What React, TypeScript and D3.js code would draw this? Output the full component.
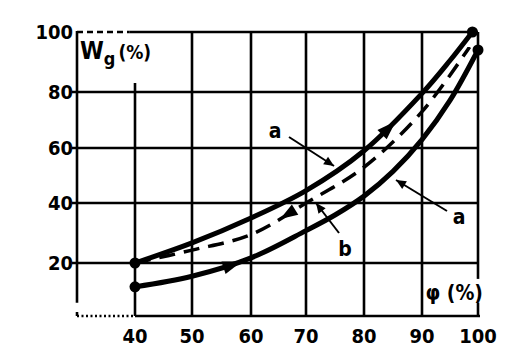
import React, { useEffect, useRef } from 'react';
import * as d3 from 'd3';

// relative humidity (%) and water content Wg (%)
const humidity = [40, 50, 60, 70, 80, 90, 95, 99];
const upperCurve = [20, 26.7, 35, 44.5, 59, 79.5, 90.5, 100];
const lowerHumidity = [40, 50, 60, 70, 75, 80, 85, 90, 95, 100];
const lowerCurve = [11, 15, 21.7, 30.8, 36, 42.5, 51.5, 63, 77, 94];
const dashedHumidity = [40, 50, 60, 70, 80, 90, 98.5];
const dashedCurve = [20, 24.3, 29.5, 40, 53, 73, 95];

const xTicks = [40, 50, 60, 70, 80, 90, 100];
const yTicks = [20, 40, 60, 80, 100];

// arrow positions (humidity) along each curve
const upperArrowAt = 84;
const lowerArrowAt = 56.5;
const dashedArrowAt = 67;

const FONT = '"DejaVu Sans Condensed", "DejaVu Sans", Arial, sans-serif';

const App = () => {
  const svgRef = useRef<SVGSVGElement>(null);

  useEffect(() => {
    const svg = d3.select(svgRef.current);
    svg.selectAll('*').remove();

    // the scan is slightly uneven, so the grid positions are mapped piecewise
    const x = d3.scaleLinear()
      .domain([30, 40, 50, 60, 70, 80, 90, 100])
      .range([77, 135, 192, 251, 306, 364, 422, 478]);
    const y = d3.scaleLinear()
      .domain([0, 20, 40, 60, 80, 100])
      .range([316, 263, 203, 148, 92, 32]);

    const ink = '#000';

    // grid
    const grid = svg.append('g').attr('stroke', ink).attr('stroke-width', 2.6);
    yTicks.filter(t => t < 100).forEach(t => {
      grid.append('line').attr('x1', x(30) - 5).attr('x2', x(100)).attr('y1', y(t)).attr('y2', y(t));
    });
    xTicks.filter(t => t > 40 && t < 100).forEach(t => {
      grid.append('line').attr('x1', x(t)).attr('x2', x(t)).attr('y1', y(100)).attr('y2', y(0));
    });
    // 40 line starts below the axis title
    grid.append('line').attr('x1', x(40)).attr('x2', x(40)).attr('y1', y(83)).attr('y2', y(0));
    // top border: dashed at the left, solid after
    grid.append('line').attr('x1', x(30)).attr('x2', x(39)).attr('y1', y(100)).attr('y2', y(100))
      .attr('stroke-dasharray', '6 4');
    grid.append('line').attr('x1', x(39)).attr('x2', x(100)).attr('y1', y(100)).attr('y2', y(100));
    // bottom border: dotted at the left, solid after
    grid.append('line').attr('x1', x(30)).attr('x2', x(40)).attr('y1', y(0)).attr('y2', y(0))
      .attr('stroke-dasharray', '2 2.5');
    grid.append('line').attr('x1', x(40)).attr('x2', x(100) + 2).attr('y1', y(0)).attr('y2', y(0));
    // left axis
    grid.append('line').attr('x1', x(30)).attr('x2', x(30)).attr('y1', y(100) - 1).attr('y2', y(5));
    grid.append('line').attr('x1', x(30)).attr('x2', x(30)).attr('y1', y(1.5)).attr('y2', y(0));
    // right border, broken by the axis title
    grid.append('line').attr('x1', x(100)).attr('x2', x(100)).attr('y1', y(100)).attr('y2', y(14));
    grid.append('line').attr('x1', x(100)).attr('x2', x(100)).attr('y1', y(5)).attr('y2', y(0));

    // tick labels
    const labels = svg.append('g')
      .style('font-family', FONT).style('font-weight', 'bold')
      .style('font-size', '20px').attr('fill', ink);
    xTicks.forEach(t => {
      labels.append('text').attr('x', x(t)).attr('y', y(0) + 27).attr('text-anchor', 'middle').text(String(t));
    });
    yTicks.forEach(t => {
      labels.append('text').attr('x', x(30) - 4).attr('y', y(t) + 7).attr('text-anchor', 'end').text(String(t));
    });

    // axis titles
    const yTitle = svg.append('text').attr('x', x(30) + 3).attr('y', y(100) + 27)
      .style('font-family', FONT).style('font-weight', 'bold')
      .style('font-size', '24px').attr('fill', ink);
    yTitle.append('tspan').text('W');
    yTitle.append('tspan').attr('dy', 6).style('font-size', '18px').text('g');
    yTitle.append('tspan').attr('dy', -6).attr('dx', 3).style('font-size', '19px').text('(%)');

    svg.append('text').attr('x', x(100) + 5).attr('y', y(0) - 16).attr('text-anchor', 'end')
      .style('font-family', FONT).style('font-weight', 'bold')
      .style('font-size', '21px').attr('fill', ink)
      .text('φ (%)');

    // curves
    const line = d3.line<[number, number]>().x(d => x(d[0])).y(d => y(d[1])).curve(d3.curveCatmullRom.alpha(0.5));
    const upperPts = humidity.map((h, i) => [h, upperCurve[i]] as [number, number]);
    const lowerPts = lowerHumidity.map((h, i) => [h, lowerCurve[i]] as [number, number]);
    const dashedPts = dashedHumidity.map((h, i) => [h, dashedCurve[i]] as [number, number]);

    const upperPath = svg.append('path').attr('d', line(upperPts)).attr('fill', 'none')
      .attr('stroke', ink).attr('stroke-width', 5);
    const lowerPath = svg.append('path').attr('d', line(lowerPts)).attr('fill', 'none')
      .attr('stroke', ink).attr('stroke-width', 5);
    const dashedPath = svg.append('path').attr('d', line(dashedPts)).attr('fill', 'none')
      .attr('stroke', ink).attr('stroke-width', 3.5).attr('stroke-dasharray', '16 9');

    // end dots
    [upperPts[0], lowerPts[0], upperPts[upperPts.length - 1], lowerPts[lowerPts.length - 1]].forEach(p => {
      svg.append('circle').attr('cx', x(p[0])).attr('cy', y(p[1])).attr('r', 5.5).attr('fill', ink);
    });

    // arrowheads on curves: find the point along the path at a given x
    const arrowOnPath = (node: SVGPathElement, hx: number, forward: boolean, size: number) => {
      const total = node.getTotalLength();
      const target = x(hx);
      let lo = 0, hi = total;
      for (let k = 0; k < 40; k++) {
        const mid = (lo + hi) / 2;
        if (node.getPointAtLength(mid).x < target) lo = mid; else hi = mid;
      }
      const p = node.getPointAtLength(lo);
      const q = node.getPointAtLength(Math.min(total, lo + 2));
      let ang = Math.atan2(q.y - p.y, q.x - p.x);
      if (!forward) ang += Math.PI;
      const tip = [p.x + Math.cos(ang) * size, p.y + Math.sin(ang) * size];
      const bx = p.x - Math.cos(ang) * size * 0.6;
      const by = p.y - Math.sin(ang) * size * 0.6;
      const w = size * 0.55;
      const pts = [
        tip,
        [bx + Math.cos(ang + Math.PI / 2) * w, by + Math.sin(ang + Math.PI / 2) * w],
        [bx - Math.cos(ang + Math.PI / 2) * w, by - Math.sin(ang + Math.PI / 2) * w],
      ];
      svg.append('polygon').attr('points', pts.map(d => d.join(',')).join(' ')).attr('fill', ink);
    };
    arrowOnPath(upperPath.node() as SVGPathElement, upperArrowAt, true, 12);
    arrowOnPath(lowerPath.node() as SVGPathElement, lowerArrowAt, true, 12);
    arrowOnPath(dashedPath.node() as SVGPathElement, dashedArrowAt, false, 11);

    // pointer labels a / a / b
    const pointer = (lx: number, ly: number, x1: number, y1: number, x2: number, y2: number, t: string) => {
      svg.append('text').attr('x', lx).attr('y', ly).attr('text-anchor', 'middle')
        .style('font-family', FONT).style('font-weight', 'bold').style('font-size', '21px').attr('fill', ink).text(t);
      svg.append('line').attr('x1', x1).attr('y1', y1).attr('x2', x2).attr('y2', y2)
        .attr('stroke', ink).attr('stroke-width', 2);
      const ang = Math.atan2(y2 - y1, x2 - x1);
      const s = 10, w = 4.5;
      const bx = x2 - Math.cos(ang) * s, by = y2 - Math.sin(ang) * s;
      const pts = [
        [x2, y2],
        [bx + Math.cos(ang + Math.PI / 2) * w, by + Math.sin(ang + Math.PI / 2) * w],
        [bx - Math.cos(ang + Math.PI / 2) * w, by - Math.sin(ang + Math.PI / 2) * w],
      ];
      svg.append('polygon').attr('points', pts.map(d => d.join(',')).join(' ')).attr('fill', ink);
    };
    pointer(275, 138, 289, 137, 334, 166, 'a');
    pointer(459, 224, 447, 211, 396, 180, 'a');
    pointer(345, 256, 339, 233, 316, 203, 'b');
  }, []);

  return <svg ref={svgRef} width={516} height={356} style={{ display: 'block', position: 'absolute', left: 0, top: 0, background: '#fff' }} />;
};

export default App;
